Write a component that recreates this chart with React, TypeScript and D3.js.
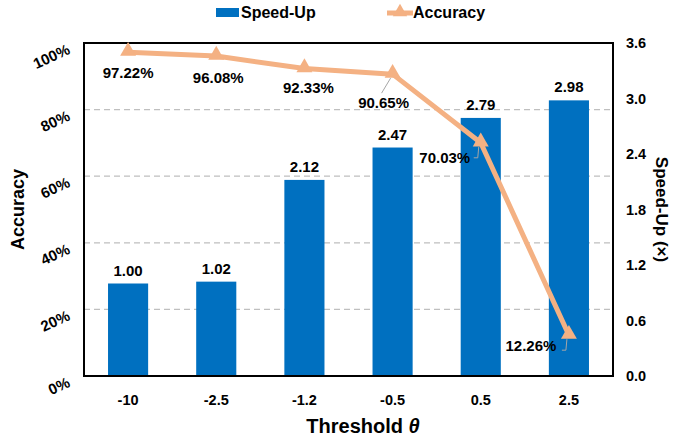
import React from "react";
import * as d3 from "d3";

const categories = ["-10", "-2.5", "-1.2", "-0.5", "0.5", "2.5"];
const speedUp = [1.0, 1.02, 2.12, 2.47, 2.79, 2.98];
const accuracy = [97.22, 96.08, 92.33, 90.65, 70.03, 12.26];
const leftTicks = [0, 20, 40, 60, 80, 100];
const rightTicks = [0, 0.6, 1.2, 1.8, 2.4, 3.0, 3.6];

// label placement (style, not data): dx, dy from point, leader line flag
const accLabelOffsets: [number, number, number][] = [
  [0, 26, 0],
  [2, 27, 0],
  [4, 24, 0],
  [-9, 34, 1],
  [-36, 20, 2],
  [-38, 16, 2],
];

const W = 674, H = 441;
const M = { left: 84, right: 61, top: 43, bottom: 65 };
const FONT = "'Liberation Sans', Arial, sans-serif";
const BAR = "#0070C0";
const LINE = "#F4B183";

export default function App() {
  const x = d3.scaleBand<string>().domain(categories).range([M.left, W - M.right]).paddingInner(0.545).paddingOuter(0.2725);
  const yL = d3.scaleLinear().domain([0, 100]).range([H - M.bottom, M.top]);
  const yR = d3.scaleLinear().domain([0, 3.6]).range([H - M.bottom, M.top]);
  const cx = (c: string) => (x(c) ?? 0) + x.bandwidth() / 2;
  const line = d3.line<number>().x((_, i) => cx(categories[i])).y((d) => yL(d));
  const tri = d3.symbol().type(d3.symbolTriangle).size(110);
  const legTri = d3.symbol().type(d3.symbolTriangle).size(90);

  return (
    <svg width={W} height={H} style={{ position: "absolute", left: 0, top: 0, fontFamily: FONT, fontWeight: "bold" }}>
      <rect width={W} height={H} fill="#fff" />
      {/* grid */}
      {leftTicks.filter((t) => t > 0 && t < 100).map((t) => (
        <line key={t} x1={M.left} x2={W - M.right} y1={yL(t)} y2={yL(t)} stroke="#BFBFBF" strokeWidth={1.3} strokeDasharray="6,4" />
      ))}
      {/* bars */}
      {speedUp.map((v, i) => (
        <g key={i}>
          <rect x={x(categories[i])} y={yR(v)} width={x.bandwidth()} height={yR(0) - yR(v)} fill={BAR} />
          <text x={cx(categories[i])} y={yR(v) - 8} textAnchor="middle" fontSize={15} fill="#000">{v.toFixed(2)}</text>
        </g>
      ))}
      {/* frame */}
      <rect x={M.left} y={M.top} width={W - M.left - M.right} height={H - M.top - M.bottom} fill="none" stroke="#000" strokeWidth={2} />
      {/* line */}
      <path d={line(accuracy) ?? ""} fill="none" stroke={LINE} strokeWidth={5} strokeLinejoin="round" />
      {accuracy.map((v, i) => (
        <path key={i} d={tri() ?? ""} transform={`translate(${cx(categories[i])},${yL(v) - 1})`} fill={LINE} />
      ))}
      {/* accuracy labels */}
      {accuracy.map((v, i) => {
        const px = cx(categories[i]), py = yL(v);
        const [dx, dy, lead] = accLabelOffsets[i];
        const tx = px + dx, ty = py + dy;
        return (
          <g key={i}>
            {lead === 1 && <line x1={px - 2} x2={px - 11} y1={py + 4} y2={py + 19} stroke="#A6A6A6" strokeWidth={1} />}
            {lead === 2 && <polyline points={`${px - 2},${py + 4} ${px - 3},${py + 15} ${px - 7},${py + 15}`} fill="none" stroke="#A6A6A6" strokeWidth={1} />}
            <text x={tx} y={ty} textAnchor="middle" fontSize={15} fill="#000">{v.toFixed(2)}%</text>
          </g>
        );
      })}
      {/* left axis labels */}
      {leftTicks.map((t) => (
        <text key={t} transform={`translate(71,${yL(t) + 10}) rotate(-25)`} textAnchor="end" fontSize={15} fill="#000">{t}%</text>
      ))}
      {/* right axis labels */}
      {rightTicks.map((t) => (
        <text key={t} x={626} y={yR(t) + 5} fontSize={14.5} fill="#000">{t.toFixed(1)}</text>
      ))}
      {/* x labels */}
      {categories.map((c) => (
        <text key={c} x={cx(c)} y={405} textAnchor="middle" fontSize={14.5} fill="#000">{c}</text>
      ))}
      {/* titles */}
      <text x={363} y={433} textAnchor="middle" fontSize={20} fill="#000">Threshold <tspan fontStyle="italic">θ</tspan></text>
      <text transform={`translate(24,${(M.top + H - M.bottom) / 2}) rotate(-90)`} textAnchor="middle" fontSize={18} fill="#000">Accuracy</text>
      <text transform={`translate(656,${(M.top + H - M.bottom) / 2}) rotate(90)`} textAnchor="middle" fontSize={17} fill="#000">Speed-Up (×)</text>
      {/* legend */}
      <rect x={216} y={8} width={23} height={9} fill={BAR} />
      <text x={241} y={18} fontSize={16} fill="#000">Speed-Up</text>
      <line x1={387} x2={413} y1={13} y2={13} stroke={LINE} strokeWidth={5} />
      <path d={legTri() ?? ""} transform={`translate(400,12)`} fill={LINE} />
      <text x={413} y={18} fontSize={16} fill="#000">Accuracy</text>
    </svg>
  );
}
